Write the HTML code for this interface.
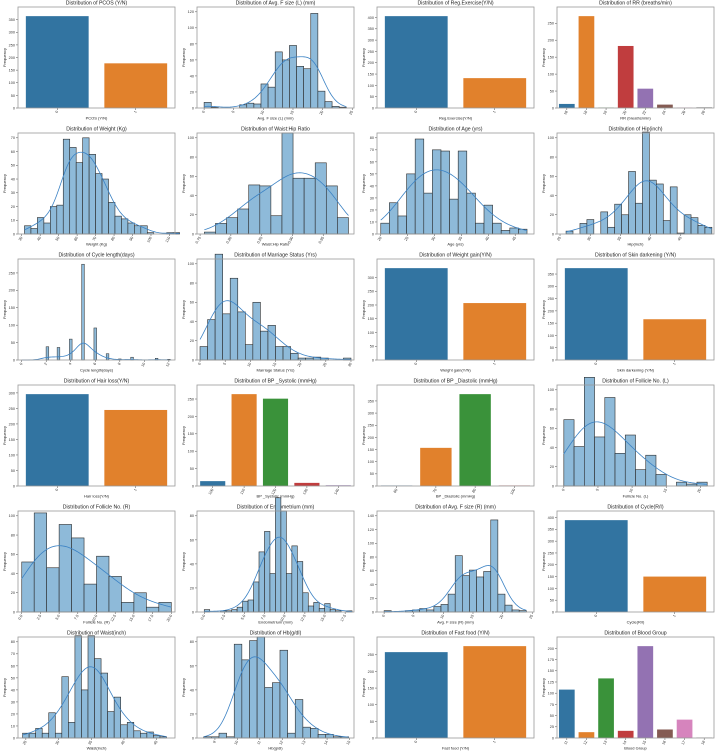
<!DOCTYPE html>
<html><head><meta charset="utf-8"><style>
html,body{margin:0;padding:0;background:#fff;}
svg{display:block;font-family:"Liberation Sans",sans-serif;}
</style></head><body>
<svg id="fig" width="719" height="755" viewBox="0 0 719 755" xmlns="http://www.w3.org/2000/svg"></svg>
<script>
// ---- data ----
const pcosCats=["0","1"];const pcosVals=[364,177];
const fsLStart=0,fsLWidth=1.2;const fsLCounts=[7,1,0,0,0,4,6,5,30,26,70,60,78,52,49,118,21,8,2,1];
const exCats=["0","1"];const exVals=[406,132];
const rrCats=["16","18","19","20","22","24","26","28"];const rrVals=[12,271,1,183,57,10,1,2];
const wtStart=31.5,wtWidth=3.5;const wtCounts=[6,4,12,8,20,21,69,63,52,70,58,44,40,23,13,11,8,6,6,1,0,0,1,1];
const whStart=0.757,whWidth=0.018;const whCounts=[2,11,17,26,51,50,19,105,58,58,74,50,17];
const ageStart=20,ageWidth=1.6;const ageCounts=[9,26,15,50,79,34,70,69,29,69,34,9,24,9,3,5,4];
const hipStart=26,hipWidth=1.15;const hipCounts=[3,0,11,15,0,23,7,31,20,65,32,106,56,52,14,49,1,20,17,9,7];
const cyVals=[38,36,60,275,92,18,3,8,5,2];const cyPos=[2.1,3,4,5,6,7,8,9,11,12];const cyWidth=0.22;
const msStart=0,msWidth=1.5;const msCounts=[14,42,110,48,85,50,16,60,30,36,14,14,7,2,2,3,2,0,0,2];
const wgCats=["0","1"];const wgVals=[334,207];
const skCats=["0","1"];const skVals=[374,166];
const hlCats=["0","1"];const hlVals=[296,245];
const sysCats=["100","110","120","130","140"];const sysVals=[14,264,251,9,2];
const diaCats=["60","70","80","100"];const diaVals=[2,157,378,2];
const flStart=0,flWidth=1.5;const flCounts=[69,41,113,51,92,34,53,17,32,12,0,4,2,4];
const frStart=0,frWidth=1.667;const frCounts=[52,103,46,91,77,29,58,37,10,20,5,10];
const enStart=0,enWidth=0.68;const enCounts=[2,0,0,1,1,2,4,9,10,25,50,67,32,95,84,32,55,42,16,5,8,3,7,2,1,0,1];
const fsRStart=0,fsRWidth=1.2;const fsRCounts=[2,0,0,2,3,5,3,8,11,26,82,53,61,51,59,134,26,10,3,2];
const riCats=["0","1"];const riVals=[389,150];
const waStart=24.5,waWidth=1.0;const waCounts=[4,4,8,4,21,4,51,13,85,40,85,66,54,22,34,11,13,6,4,5,2,1];
const hbStart=8.5,hbWidth=0.34;const hbCounts=[1,1,4,1,78,65,81,84,42,46,73,4,32,9,8,3,3,1,1];
const ffCats=["0","1"];const ffVals=[258,276];
const bgCats=["11","12","13","14","15","16","17","18"];const bgVals=[108,13,133,16,205,19,41,1];

const PAL=["#3274A1","#E1812C","#3A923A","#C03D3E","#9372B2","#845B53","#D684BD","#7F7F7F"];
const NS="http://www.w3.org/2000/svg";
const svg=document.getElementById('fig');
const colL=[18,197,377,557],colW=157,rowT=[7,133,259,385,511,637],rowH=101;
function el(tag,attrs,parent){const e=document.createElementNS(NS,tag);for(const k in attrs)e.setAttribute(k,attrs[k]);(parent||svg).appendChild(e);return e;}
function ticksRange(a,b,s){const r=[];for(let v=a;v<=b+1e-9;v+=s)r.push(+v.toFixed(4));return r;}

function frame(ci,ri,title,xlabel,yticks,ymax,xlim,xticks,xtickLabels){
  const x0=colL[ci],y0=rowT[ri],w=colW,h=rowH;
  const g=el('g',{});
  
  
  const sx=v=>x0+(v-xlim[0])/(xlim[1]-xlim[0])*w;
  const sy=v=>y0+h-v/ymax*h;
  const t=el('text',{x:x0+w/2,y:y0-2.5,'font-size':5.2,'text-anchor':'middle',fill:'#222'},g);t.textContent=title;
  
  const xl=el('text',{x:x0+w/2,y:y0+h+11.5,'font-size':4,'text-anchor':'middle',fill:'#222'},g);xl.textContent=xlabel;
  
  const yl=el('text',{x:0,y:0,'font-size':4,'text-anchor':'middle',fill:'#222',transform:`translate(${x0-12},${y0+h/2}) rotate(-90)`},g);yl.textContent='Frequency';
  
  yticks.forEach(v=>{const yy=sy(v);el('line',{x1:x0-2,x2:x0,y1:yy,y2:yy,stroke:'#444','stroke-width':0.5},g);
    const tt=el('text',{x:x0-3,y:yy+1.4,'font-size':3.8,'text-anchor':'end',fill:'#333'},g);tt.textContent=v;
    });
  xticks.forEach((v,i)=>{const xx=sx(v);el('line',{x1:xx,x2:xx,y1:y0+h,y2:y0+h+2,stroke:'#444','stroke-width':0.5},g);
    const tt=el('text',{x:0,y:0,'font-size':3.8,'text-anchor':'end',fill:'#333',transform:`translate(${xx+1},${y0+h+3.5}) rotate(-60)`},g);tt.textContent=xtickLabels?xtickLabels[i]:v;
    });
  return {g,sx,sy,x0,y0,w,h};
}
function border(f){const r=el('rect',{x:f.x0,y:f.y0,width:f.w,height:f.h,fill:'none',stroke:'#999','stroke-width':0.8},f.g);}

function barChart(ci,ri,title,xlabel,cats,vals,ymax,ystep){
  const n=cats.length;
  const f=frame(ci,ri,title,xlabel,ticksRange(0,ymax,ystep).filter(v=>v<=ymax*0.985),ymax*1.05,[-0.5,n-0.5],cats.map((c,i)=>i),cats);
  vals.forEach((v,i)=>{const r=el('rect',{x:f.sx(i-0.4),y:f.sy(v),width:f.sx(i+0.4)-f.sx(i-0.4),height:f.sy(0)-f.sy(v),fill:PAL[i%8]},f.g);
    });
  border(f);
}
function kdePath(f,centers,counts,bw,binw,xa,xb){
  let d='';const N=120;
  for(let k=0;k<=N;k++){const x=xa+(xb-xa)*k/N;let s=0;
    centers.forEach((c,i)=>{s+=counts[i]*Math.exp(-0.5*((x-c)/bw)**2)/(bw*Math.sqrt(2*Math.PI));});
    const y=s*binw;d+=(k?'L':'M')+f.sx(x).toFixed(2)+','+f.sy(y).toFixed(2);}
  const p=el('path',{d,fill:'none',stroke:'#3b82c4','stroke-width':0.8},f.g);
  
}
function hist(ci,ri,title,xlabel,start,width,counts,xlim,xticks,ymax,ystep,bwMul,xtl){
  const f=frame(ci,ri,title,xlabel,ticksRange(0,ymax,ystep),ymax*1.05,xlim,xticks,xtl);
  const centers=[];
  counts.forEach((c,i)=>{const a=start+i*width;centers.push(a+width/2);
    if(c<=0)return;
    const r=el('rect',{x:f.sx(a),y:f.sy(c),width:f.sx(a+width)-f.sx(a),height:f.sy(0)-f.sy(c),fill:'#8ebad9',stroke:'#2b2b2b','stroke-width':0.6},f.g);
    });
  kdePath(f,centers,counts,width*(bwMul||1.6),width,start,start+counts.length*width);
  border(f);
}

barChart(0,0,'Distribution of PCOS (Y/N)','PCOS (Y/N)',pcosCats,pcosVals,364/0.955,50);
hist(1,0,'Distribution of Avg. F size (L) (mm)','Avg. F size (L) (mm)',fsLStart,fsLWidth,fsLCounts,[-1.2,25.3],[0,5,10,15,20,25],120,20,1.5);
barChart(2,0,'Distribution of Reg.Exercise(Y/N)','Reg.Exercise(Y/N)',exCats,exVals,406/0.955,50);
barChart(3,0,'Distribution of RR (breaths/min)','RR (breaths/min)',rrCats,rrVals,271/0.955,50);

hist(0,1,'Distribution of Weight (Kg)','Weight (Kg)',wtStart,wtWidth,wtCounts,[28,113],[30,40,50,60,70,80,90,100,110],70,10,1.4);
hist(1,1,'Distribution of Waist:Hip Ratio','Waist:Hip Ratio',whStart,whWidth,whCounts,[0.745,1.0],[0.75,0.80,0.85,0.90,0.95],100,20,1.6,['0.75','0.80','0.85','0.90','0.95']);
hist(2,1,'Distribution of Age (yrs)','Age (yrs)',ageStart,ageWidth,ageCounts,[19.3,48.5],[20,25,30,35,40,45],80,10,2.2);
hist(3,1,'Distribution of Hip(inch)','Hip(inch)',hipStart,hipWidth,hipCounts,[24.5,50.5],[25,30,35,40,45],100,20,2);

(function(){const f=frame(0,2,'Distribution of Cycle length(days)','Cycle length(days)',ticksRange(0,250,50),290,[-0.3,12.5],[0,2,4,6,8,10,12]);
  cyVals.forEach((v,i)=>{const a=cyPos[i]-cyWidth/2;const r=el('rect',{x:f.sx(a),y:f.sy(v),width:f.sx(a+cyWidth)-f.sx(a),height:f.sy(0)-f.sy(v),fill:'#8ebad9',stroke:'#2b2b2b','stroke-width':0.5},f.g);
    });
  kdePath(f,cyPos,cyVals,0.55,0.22,0,12.2);border(f);})();
hist(1,2,'Distribution of Marriage Status (Yrs)','Marriage Status (Yrs)',msStart,msWidth,msCounts,[-0.6,30.6],[0,5,10,15,20,25,30],100,20,1.8);
barChart(2,2,'Distribution of Weight gain(Y/N)','Weight gain(Y/N)',wgCats,wgVals,334/0.955,50);
barChart(3,2,'Distribution of Skin darkening (Y/N)','Skin darkening (Y/N)',skCats,skVals,374/0.955,50);

barChart(0,3,'Distribution of Hair loss(Y/N)','Hair loss(Y/N)',hlCats,hlVals,296/0.955,50);
barChart(1,3,'Distribution of BP _Systolic (mmHg)','BP _Systolic (mmHg)',sysCats,sysVals,264/0.955,50);
barChart(2,3,'Distribution of BP _Diastolic (mmHg)','BP _Diastolic (mmHg)',diaCats,diaVals,378/0.955,50);
hist(3,3,'Distribution of Follicle No. (L)','Follicle No. (L)',flStart,flWidth,flCounts,[-1,22],[0,5,10,15,20],100,20,1.8);

hist(0,4,'Distribution of Follicle No. (R)','Follicle No. (R)',frStart,frWidth,frCounts,[-0.5,20.5],[0,2.5,5,7.5,10,12.5,15,17.5,20],100,20,1.6,['0.0','2.5','5.0','7.5','10.0','12.5','15.0','17.5','20.0']);
hist(1,4,'Distribution of Endometrium (mm)','Endometrium (mm)',enStart,enWidth,enCounts,[-0.9,18.6],[0,2.5,5,7.5,10,12.5,15,17.5],80,20,1.8,['0.0','2.5','5.0','7.5','10.0','12.5','15.0','17.5']);
hist(2,4,'Distribution of Avg. F size (R) (mm)','Avg. F size (R) (mm)',fsRStart,fsRWidth,fsRCounts,[-1.2,25.3],[0,5,10,15,20,25],140,20,1.5);
barChart(3,4,'Distribution of Cycle(R/I)','Cycle(R/I)',riCats,riVals,389/0.955,50);

hist(0,5,'Distribution of Waist(inch)','Waist(inch)',waStart,waWidth,waCounts,[23.8,47.8],[25,30,35,40,45],80,10,1.8);
hist(1,5,'Distribution of Hb(g/dl)','Hb(g/dl)',hbStart,hbWidth,hbCounts,[8.2,15.2],[9,10,11,12,13,14,15],80,20,1.6);
barChart(2,5,'Distribution of Fast food (Y/N)','Fast food (Y/N)',ffCats,ffVals,276/0.955,50);
barChart(3,5,'Distribution of Blood Group','Blood Group',bgCats,bgVals,205/0.955,25);
</script>
</body></html>
